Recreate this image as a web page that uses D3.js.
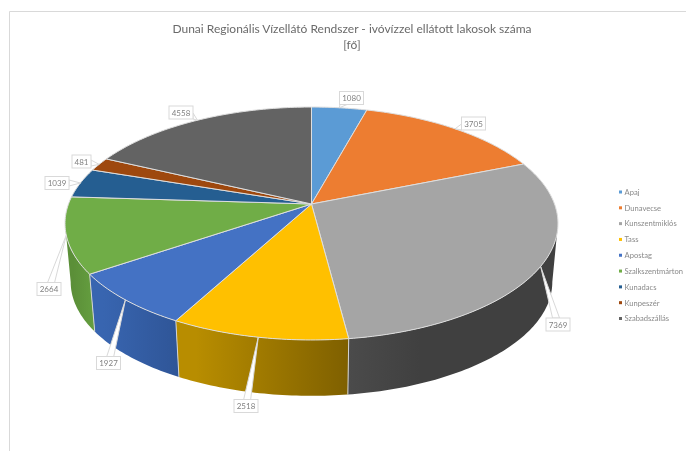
<!DOCTYPE html>
<html>
<head>
<meta charset="utf-8">
<script src="https://cdn.jsdelivr.net/npm/d3@7"></script>
<style>
html, body { margin: 0; padding: 0; background: #fff; }
svg { display: block; font-family: Lato, sans-serif; filter: blur(0.35px); }
</style>
</head>
<body>
<div id="chart-area"></div>
<script>
var categories = ["Apaj", "Dunavecse", "Kunszentmiklós", "Tass", "Apostag", "Szalkszentmárton", "Kunadacs", "Kunpeszér", "Szabadszállás"];
var values = [1080, 3705, 7369, 2518, 1927, 2664, 1039, 481, 4558];
var colors = ["#5b9bd5", "#ed7d31", "#a5a5a5", "#ffc000", "#4472c4", "#70ad47", "#255e91", "#9e480e", "#636363"];
var titleLines = ["Dunai Regionális Vízellátó Rendszer - ivóvízzel ellátott lakosok száma", "[fő]"];

// label box centres, set by hand like dragged labels in a spreadsheet
var labelX = [351.5, 473.5, 558, 246, 108.5, 49, 57, 81.5, 181];
var labelY = [98, 123.5, 324.5, 406, 363, 289, 183, 161.5, 112.5];

var width = 686;
var height = 451;

// projected disc, the top face of the pie seen in perspective
var cx = 311.5, cy = 204, R = 243, A = 113.2, k = 0.1674;
var bottomScale = 0.977, bottomShift = 59;
var wallFrom = 99.6 * Math.PI / 180, wallTo = 260.4 * Math.PI / 180;

function topPoint(t) {
	var w = 1 + k * Math.cos(t);
	return [cx + R * Math.sin(t) / w, cy - A * Math.cos(t) / w];
}
function bottomPoint(t) {
	var p = topPoint(t);
	return [cx + (p[0] - cx) * bottomScale, cy + bottomShift + (p[1] - cy) * bottomScale];
}
function arcPoints(a0, a1, fn) {
	var n = Math.max(2, Math.ceil((a1 - a0) * 60));
	return d3.range(n + 1).map((i) => fn(a0 + (a1 - a0) * i / n));
}

var line = d3.line();

var svg = d3.select("#chart-area").append("svg")
	.attr("width", width)
	.attr("height", height);

svg.append("rect").attr("width", width).attr("height", height).attr("fill", "#fff");

// chart frame, runs off the picture on the right and at the bottom
svg.append("path")
	.attr("d", "M9.5," + height + "V11.5H" + width)
	.attr("fill", "none")
	.attr("stroke", "#d9d9d9");

svg.append("g").selectAll("text").data(titleLines).enter()
	.append("text")
	.attr("x", 352)
	.attr("y", (d, i) => 32.5 + i * 16)
	.attr("text-anchor", "middle")
	.attr("font-size", "12px")
	.attr("fill", "#6a6a6a")
	.text((d) => d);

var arcs = d3.pie().sort(null).value((d) => d)(values);
var defs = svg.append("defs");

// walls, only the part of each slice that faces the viewer
var walls = arcs.map((d, i) => {
	return {i: i, a0: Math.max(d.startAngle, wallFrom), a1: Math.min(d.endAngle, wallTo)};
}).filter((d) => d.a1 > d.a0);

var wallShades = {2: ["#4b4b4b", "#404040"], 3: ["#b88d00", "#7f6000"], 4: ["#3865b0", "#2f5597"], 5: ["#5b8f38", "#659f40"]};

walls.forEach((d) => {
	var x0 = bottomPoint(d.a0)[0], x1 = bottomPoint(d.a1)[0];
	var g = defs.append("linearGradient")
		.attr("id", "wall" + d.i)
		.attr("gradientUnits", "userSpaceOnUse")
		.attr("x1", Math.min(x0, x1)).attr("x2", Math.max(x0, x1))
		.attr("y1", 0).attr("y2", 0);
	var shade = wallShades[d.i];
	g.append("stop").attr("offset", d.i == 2 ? 0 : 0.1).attr("stop-color", shade[0]);
	g.append("stop").attr("offset", d.i == 2 ? 0.35 : 1).attr("stop-color", shade[1]);
});

svg.append("g").selectAll("path").data(walls).enter()
	.append("path")
	.attr("d", (d) => {
		var pts = arcPoints(d.a0, d.a1, topPoint).concat(arcPoints(d.a0, d.a1, bottomPoint).reverse());
		return line(pts) + "Z";
	})
	.attr("fill", (d) => "url(#wall" + d.i + ")")
	.attr("stroke", "none");

// seams between walls
svg.append("g").selectAll("path").data(walls.slice(1)).enter()
	.append("path")
	.attr("d", (d) => line([topPoint(d.a0), bottomPoint(d.a0)]))
	.attr("stroke", "#d4d4d4")
	.attr("stroke-width", 1)
	.attr("fill", "none");

// top face
svg.append("g").selectAll("path").data(arcs).enter()
	.append("path")
	.attr("d", (d) => {
		return line([[cx, cy]].concat(arcPoints(d.startAngle, d.endAngle, topPoint))) + "Z";
	})
	.attr("fill", (d, i) => colors[i])
	.attr("stroke", "#dedede")
	.attr("stroke-width", 1)
	.attr("stroke-linejoin", "round");

// data labels with callouts pointing at the rim
var labels = svg.append("g").selectAll("g").data(arcs).enter().append("g");

function calloutPath(d, i) {
	var t = topPoint((d.startAngle + d.endAngle) / 2);
	var w = boxWidth(d) / 2, h = 6.5;
	var x = labelX[i], y = labelY[i];
	var dx = t[0] - x, dy = t[1] - y;
	var base;
	if (Math.abs(dy) / h > Math.abs(dx) / w) {
		var ey = y + (dy > 0 ? h : -h);
		var bx = Math.max(x - w + 4, Math.min(x + w - 4, x + dx * h / Math.abs(dy)));
		base = [[bx - 3.5, ey], [bx + 3.5, ey]];
	} else {
		var ex = x + (dx > 0 ? w : -w);
		var by = Math.max(y - h + 3, Math.min(y + h - 3, y + dy * w / Math.abs(dx)));
		base = [[ex, by - 3], [ex, by + 3]];
	}
	return line([base[0], t, base[1]]) + "Z";
}
function boxWidth(d) {
	return d.value < 1000 ? 19 : 24;
}

labels.append("path")
	.attr("d", calloutPath)
	.attr("fill", "#fff")
	.attr("stroke", "#d9d9d9")
	.attr("stroke-width", 1);

labels.append("rect")
	.attr("x", (d, i) => labelX[i] - boxWidth(d) / 2)
	.attr("y", (d, i) => labelY[i] - 6.5)
	.attr("width", boxWidth)
	.attr("height", 13)
	.attr("fill", "#fff")
	.attr("stroke", "#d9d9d9")
	.attr("stroke-width", 1);

labels.append("text")
	.attr("x", (d, i) => labelX[i])
	.attr("y", (d, i) => labelY[i] + 3)
	.attr("text-anchor", "middle")
	.attr("font-size", "8px")
	.attr("fill", "#808080")
	.text((d) => d.value);

// legend
var legendY = d3.scalePoint().domain(categories).range([192, 318.5]);
var legend = svg.append("g").selectAll("g").data(categories).enter().append("g")
	.attr("transform", (d) => "translate(619," + legendY(d) + ")");

legend.append("rect")
	.attr("y", -1.5)
	.attr("width", 3)
	.attr("height", 3)
	.attr("fill", (d, i) => colors[i]);

legend.append("text")
	.attr("x", 5.5)
	.attr("y", 2.8)
	.attr("font-size", "7.6px")
	.attr("fill", "#8a8a8a")
	.text((d) => d);
</script>
</body>
</html>
